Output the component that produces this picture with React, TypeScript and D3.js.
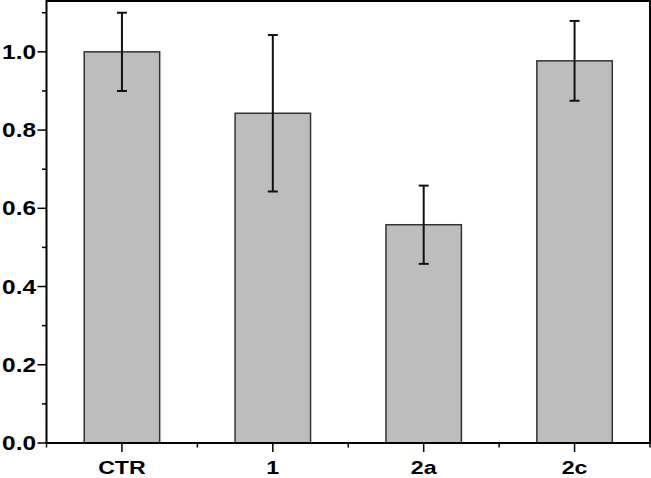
import React from "react";
import * as d3 from "d3";

const categories = ["CTR", "1", "2a", "2c"];
const values = [1.0, 0.843, 0.558, 0.977];
const errors = [0.1, 0.2, 0.1, 0.102];
const majorTicks = [0, 0.2, 0.4, 0.6, 0.8, 1.0];
const minorTicks = [0.1, 0.3, 0.5, 0.7, 0.9, 1.1];

const W = 651;
const H = 478;
const left = 46.5;
const right = 650;
const top = 1;
const bottom = 443;

export default function App() {
  const x = d3.scaleBand<string>().domain(categories).range([left, right]).padding(0);
  const y = d3.scaleLinear().domain([0, 1.13]).range([bottom, top]);
  const bw = x.bandwidth() * 0.5;
  const font = "Arial, 'Liberation Sans', Helvetica, sans-serif";
  const sx = 1.22;
  const boundaries = categories.map((c) => x(c) as number).concat([right]);

  return (
    <svg width={W} height={H} style={{ position: "absolute", left: 0, top: 0, background: "#fff" }}>
      {categories.map((c, i) => {
        const cx = (x(c) as number) + x.bandwidth() / 2;
        return (
          <rect
            key={c}
            x={cx - bw / 2}
            y={y(values[i])}
            width={bw}
            height={y(0) - y(values[i])}
            fill="#bdbdbd"
            stroke="#333"
            strokeWidth={1.5}
          />
        );
      })}
      {categories.map((c, i) => {
        const cx = (x(c) as number) + x.bandwidth() / 2;
        const hi = y(values[i] + errors[i]);
        const lo = y(values[i] - errors[i]);
        return (
          <g key={"e" + c} stroke="#111" strokeWidth={2}>
            <line x1={cx} x2={cx} y1={hi} y2={lo} />
            <line x1={cx - 5} x2={cx + 5} y1={hi} y2={hi} />
            <line x1={cx - 5} x2={cx + 5} y1={lo} y2={lo} />
          </g>
        );
      })}
      <rect x={left} y={top} width={right - left} height={bottom - top} fill="none" stroke="#000" strokeWidth={2} />
      {majorTicks.map((t) => (
        <g key={"ym" + t}>
          <line x1={left - 9} x2={left} y1={y(t)} y2={y(t)} stroke="#000" strokeWidth={1.5} />
          <text
            transform={`translate(36,${y(t) + 7}) scale(${sx},1)`}
            textAnchor="end"
            fontFamily={font}
            fontWeight="bold"
            fontSize={20}
            fill="#000"
          >
            {t.toFixed(1)}
          </text>
        </g>
      ))}
      {minorTicks.map((t) => (
        <line key={"yn" + t} x1={left - 4.5} x2={left} y1={y(t)} y2={y(t)} stroke="#000" strokeWidth={1.5} />
      ))}
      {categories.map((c) => {
        const cx = (x(c) as number) + x.bandwidth() / 2;
        return (
          <g key={"xm" + c}>
            <line x1={cx} x2={cx} y1={bottom} y2={bottom + 9} stroke="#000" strokeWidth={1.5} />
            <text
              transform={`translate(${cx},473.5) scale(${sx},1)`}
              textAnchor="middle"
              fontFamily={font}
              fontWeight="bold"
              fontSize={19}
              fill="#000"
            >
              {c}
            </text>
          </g>
        );
      })}
      {boundaries.map((b, i) => (
        <line key={"xn" + i} x1={b} x2={b} y1={bottom} y2={bottom + 4.5} stroke="#000" strokeWidth={1.5} />
      ))}
    </svg>
  );
}
